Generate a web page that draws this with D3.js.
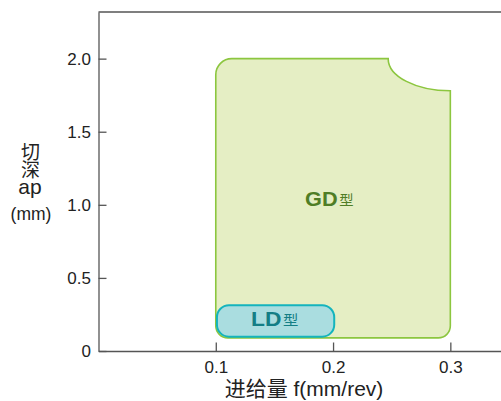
<!DOCTYPE html>
<html><head><meta charset="utf-8">
<script src="https://cdn.jsdelivr.net/npm/d3@7"></script>
<style>
body{margin:0;background:#fff;}
svg{font-family:"Liberation Sans",Arial,"Noto Sans CJK SC",sans-serif;}
</style></head>
<body><svg id="c" width="501" height="401"></svg>
<script>
// Data
const xTicks = [0.1, 0.2, 0.3];
const xTickLabels = ["0.1", "0.2", "0.3"];
const yTicks = [0, 0.5, 1.0, 1.5, 2.0];
const yTickLabels = ["0", "0.5", "1.0", "1.5", "2.0"];
// GD region: feed range, depth range, notch start feed, right-edge top depth
const gdFeed = [0.1, 0.3];
const gdDepth = [0.09, 2.0];
const gdNotch = [0.247, 1.78];
// LD region
const ldFeed = [0.101, 0.201];
const ldDepth = [0.098, 0.313];
const labels = ["GD", "LD"];

const svg = d3.select("#c");
const mLeft = 98.5, mRight = 501, mTop = 12, mBottom = 351;
const x = d3.scaleLinear().domain([0, 0.3432]).range([mLeft, mRight]);
const y = d3.scaleLinear().domain([0, 2.319]).range([mBottom, mTop]);
const CJK = "Noto Sans CJK SC";

// GD shape
const x1 = x(gdFeed[0]), x2 = x(gdFeed[1]), xa = x(gdNotch[0]);
const yb = y(gdDepth[0]), yt = y(gdDepth[1]), yn = y(gdNotch[1]);
const rTL = 16, rB = 12;
const gdPath = `M${x1},${yb - rB} L${x1},${yt + rTL} A${rTL},${rTL} 0 0 1 ${x1 + rTL},${yt}
 L${xa},${yt} A${x2 - xa},${yn - yt} 0 0 0 ${x2},${yn}
 L${x2},${yb - rB} A${rB},${rB} 0 0 1 ${x2 - rB},${yb} L${x1 + rB},${yb} A${rB},${rB} 0 0 1 ${x1},${yb - rB} Z`;
svg.append("path").attr("d", gdPath)
  .attr("fill", "#e5eec4").attr("stroke", "#8cc63f").attr("stroke-width", 1.6);

// LD shape
svg.append("rect")
  .attr("x", x(ldFeed[0])).attr("y", y(ldDepth[1]))
  .attr("width", x(ldFeed[1]) - x(ldFeed[0])).attr("height", y(ldDepth[0]) - y(ldDepth[1]))
  .attr("rx", 12).attr("ry", 12)
  .attr("fill", "#aadde0").attr("stroke", "#14b4bd").attr("stroke-width", 2);

// Labels
const gdG = svg.append("text").attr("transform", "translate(305,205.5) scale(1.06,1)")
  .attr("fill", "#4f7d26");
gdG.append("tspan").attr("font-size", 20.5).attr("font-weight", "bold").text(labels[0]);
gdG.append("tspan").attr("font-size", 13.5).attr("font-family", CJK).attr("dx", 1.5).attr("dy", -1).text("型");
const ldG = svg.append("text").attr("transform", "translate(251,325.5) scale(1.14,1)")
  .attr("fill", "#147e85");
ldG.append("tspan").attr("font-size", 20).attr("font-weight", "bold").text(labels[1]);
ldG.append("tspan").attr("font-size", 13.5).attr("font-family", CJK).attr("dx", 1.5).attr("dy", -0.5).text("型");

// Axes
const axisColor = "#555";
const gx = svg.append("g").attr("transform", `translate(0,${mBottom})`)
  .call(d3.axisBottom(x).tickValues(xTicks).tickFormat((d, i) => xTickLabels[i])
    .tickSizeInner(-8.5).tickSizeOuter(0).tickPadding(10));
const gy = svg.append("g").attr("transform", `translate(${mLeft},0)`)
  .call(d3.axisLeft(y).tickValues(yTicks).tickFormat((d, i) => yTickLabels[i])
    .tickSizeInner(-8).tickSizeOuter(0).tickPadding(7.5));
[gx, gy].forEach(g => {
  g.attr("font-family", null).attr("font-size", null);
  g.selectAll("path.domain").attr("stroke", axisColor).attr("stroke-width", 1.3);
  g.selectAll(".tick line").attr("stroke", axisColor).attr("stroke-width", 1.3);
  g.selectAll(".tick text").attr("font-size", 17).attr("fill", "#222");
});
// top frame line
svg.append("line").attr("x1", mLeft).attr("x2", mRight).attr("y1", mTop).attr("y2", mTop)
  .attr("stroke", axisColor).attr("stroke-width", 1.3);

// Axis titles
const yl = svg.append("text").attr("fill", "#222").attr("text-anchor", "middle").attr("font-size", 19);
yl.append("tspan").attr("x", 30.5).attr("y", 158.5).attr("font-family", CJK).text("切");
yl.append("tspan").attr("x", 30.5).attr("y", 176.5).attr("font-family", CJK).text("深");
yl.append("tspan").attr("x", 30).attr("y", 193.5).attr("font-size", 21).text("ap");
yl.append("tspan").attr("x", 31).attr("y", 219.5).attr("font-size", 17.5).text("(mm)");
const xl = svg.append("text").attr("x", 304).attr("y", 395.5).attr("text-anchor", "middle")
  .attr("font-size", 21).attr("fill", "#222");
xl.append("tspan").attr("font-family", CJK).text("进给量");
xl.append("tspan").text(" f(mm/rev)");
</script></body></html>
